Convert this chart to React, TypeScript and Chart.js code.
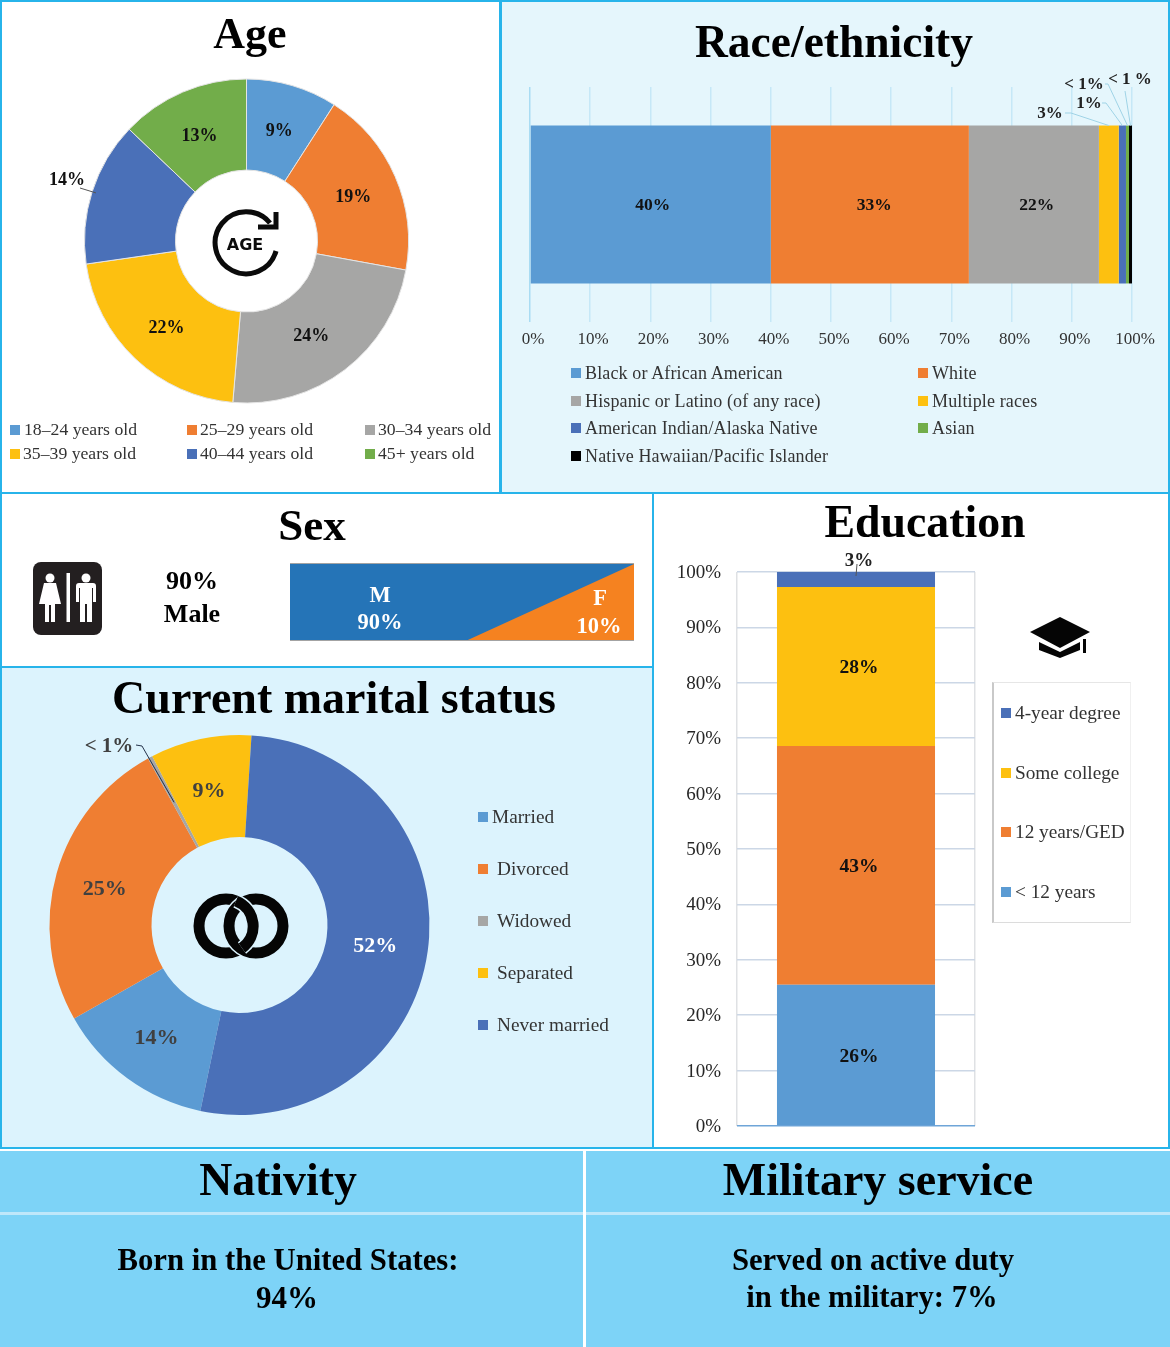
import React, { useEffect, useRef } from "react";
import { Chart, registerables } from "chart.js";

Chart.register(...registerables);

const SERIF = '"Liberation Serif", "Times New Roman", serif';

const BLUE = "#5b9bd3";
const ORANGE = "#ef7e32";
const GRAY = "#a6a6a5";
const YELLOW = "#fdc010";
const NAVY = "#4a70b8";
const GREEN = "#72ad4a";
const BLACK = "#000000";

const ageCategories = ["18–24 years old", "25–29 years old", "30–34 years old", "35–39 years old", "40–44 years old", "45+ years old"];
const ageValues = [9.1, 18.8, 23.5, 21.4, 14.4, 12.9];
const ageLabels = ["9%", "19%", "24%", "22%", "", "13%"];
const ageColors = [BLUE, ORANGE, GRAY, YELLOW, NAVY, GREEN];

const raceCategories = ["Black or African American", "White", "Hispanic or Latino (of any race)", "Multiple races", "American Indian/Alaska Native", "Asian", "Native Hawaiian/Pacific Islander"];
const raceValues = [40, 32.9, 21.6, 3.3, 1.2, 0.5, 0.5];
const raceLabels = ["40%", "33%", "22%", "", "", "", ""];
const raceColors = [BLUE, ORANGE, GRAY, YELLOW, NAVY, GREEN, BLACK];

const maritalCategories = ["Married", "Divorced", "Widowed", "Separated", "Never married"];
const maritalValues = [13.5, 25.2, 0.4, 8.6, 52.3];
const maritalLabels = ["14%", "25%", "", "9%", "52%"];
const maritalColors = [BLUE, ORANGE, GRAY, YELLOW, NAVY];

const eduCategories = ["< 12 years", "12 years/GED", "Some college", "4-year degree"];
const eduValues = [25.5, 43.1, 28.7, 2.7];
const eduLabels = ["26%", "43%", "28%", ""];
const eduColors = [BLUE, ORANGE, YELLOW, NAVY];

const sexMaleArea = [{ x: 0, y: 100 }, { x: 100, y: 100 }];
const sexFemaleArea = [{ x: 51.7, y: 0 }, { x: 100, y: 100 }];

const markLabels = {
  id: "markLabels",
  afterDatasetsDraw(chart: any, _args: any, opts: any) {
    const ctx = chart.ctx;
    const [ox, oy] = opts.origin || [0, 0];
    const metas = chart.getSortedVisibleDatasetMetas();
    const els: any[] = [];
    metas.forEach((m: any) => m.data.forEach((e: any) => els.push(e)));
    ctx.save();
    ctx.textAlign = "center";
    ctx.textBaseline = "middle";
    els.forEach((el, i) => {
      const t = opts.texts?.[i];
      if (t) {
        const c = el.getCenterPoint();
        const n = opts.nudges?.[i] || [0, 0];
        ctx.font = opts.font;
        ctx.fillStyle = Array.isArray(opts.colors) ? opts.colors[i] : opts.colors;
        ctx.fillText(t, c.x + (opts.shift?.[0] || 0) + n[0], c.y + (opts.shift?.[1] || 0) + n[1]);
      }
    });
    (opts.callouts || []).forEach((co: any) => {
      const el = els[co.index];
      const c = el.getCenterPoint();
      let ax = c.x;
      let ay = c.y;
      if (el.outerRadius !== undefined && co.radius) {
        const mid = (el.startAngle + el.endAngle) / 2;
        ax = el.x + Math.cos(mid) * co.radius;
        ay = el.y + Math.sin(mid) * co.radius;
      } else if (el.height !== undefined && el.horizontal) {
        ay = el.y - el.height / 2;
      } else if (el.height !== undefined) {
        ay = el.y + (co.inset || 0);
      }
      ctx.beginPath();
      ctx.strokeStyle = co.lineColor;
      ctx.lineWidth = 1;
      const pts = co.path.map(([x, y]: number[]) => [x - ox, y - oy]);
      ctx.moveTo(pts[0][0], pts[0][1]);
      pts.slice(1).forEach(([x, y]: number[]) => ctx.lineTo(x, y));
      ctx.lineTo(ax, ay);
      ctx.stroke();
      ctx.font = co.font;
      ctx.fillStyle = co.color;
      ctx.fillText(co.text, co.at[0] - ox, co.at[1] - oy);
    });
    ctx.restore();
  },
};

function ageConfig() {
  return {
    type: "doughnut",
    data: {
      labels: ageCategories,
      datasets: [{ data: ageValues, backgroundColor: ageColors, borderColor: "#e4e4e4", borderWidth: 1 }],
    },
    plugins: [markLabels],
    options: {
      responsive: false,
      animation: false,
      cutout: 71,
      layout: { padding: { left: 84, right: 91, top: 78, bottom: 88 } },
      plugins: {
        legend: { display: false },
        tooltip: { enabled: false },
        markLabels: {
          texts: ageLabels,
          font: `bold 18px ${SERIF}`,
          colors: "#111111",
          shift: [0, 2.5],
          nudges: [[0, 0], [0, 0], [-6, 0], [0, 0], [0, 0], [-1, 0]],
          callouts: [{
            index: 4, radius: 158, text: "14%", at: [67, 180], path: [[80, 188]],
            lineColor: "#555555", font: `bold 18px ${SERIF}`, color: "#111111",
          }],
        },
      },
    },
  };
}

function raceConfig() {
  return {
    type: "bar",
    data: {
      labels: ["Race/ethnicity"],
      datasets: raceCategories.map((c, i) => ({
        label: c,
        data: [raceValues[i]],
        backgroundColor: raceColors[i],
        barPercentage: 0.672,
        categoryPercentage: 1,
      })),
    },
    plugins: [markLabels],
    options: {
      indexAxis: "y",
      responsive: false,
      animation: false,
      layout: { padding: { left: 28, right: 38, top: 85, bottom: 140 } },
      scales: {
        x: {
          stacked: true,
          min: 0,
          max: 100,
          afterFit: (s: any) => { s.height = 30; },
          border: { display: false },
          grid: {
            color: (c: any) => (c.tick?.value === 0 ? "#a9dcf3" : "#c6e8f7"),
            lineWidth: 1.5,
            drawTicks: false,
          },
          ticks: {
            stepSize: 10,
            maxRotation: 0,
            autoSkip: false,
            padding: 7,
            labelOffset: 3,
            color: "#333333",
            font: { family: SERIF, size: 17 },
            callback: (v: any) => `${v}%`,
          },
        },
        y: { stacked: true, display: false },
      },
      plugins: {
        legend: { display: false },
        tooltip: { enabled: false },
        markLabels: {
          origin: [502, 2],
          texts: raceLabels,
          font: `bold 17.5px ${SERIF}`,
          colors: "#111111",
          shift: [3, 1],
          nudges: [[-1, 0], [1.5, 0], [0, 0]],
          callouts: [
            { index: 3, text: "3%", at: [1050, 114], path: [[1065, 113], [1071, 113]], lineColor: "#9fd3e6", font: `bold 17px ${SERIF}`, color: "#222222" },
            { index: 4, text: "1%", at: [1089, 104], path: [[1102, 103], [1106, 103]], lineColor: "#9fd3e6", font: `bold 17px ${SERIF}`, color: "#222222" },
            { index: 5, text: "< 1%", at: [1084, 85], path: [[1105, 84], [1108, 84]], lineColor: "#9fd3e6", font: `bold 17px ${SERIF}`, color: "#222222" },
            { index: 6, text: "< 1 %", at: [1130, 80], path: [[1125, 91]], lineColor: "#9fd3e6", font: `bold 17px ${SERIF}`, color: "#222222" },
          ],
        },
      },
    },
  };
}

function maritalConfig() {
  return {
    type: "doughnut",
    data: {
      labels: maritalCategories,
      datasets: [{ data: maritalValues, backgroundColor: maritalColors, borderWidth: 0 }],
    },
    plugins: [markLabels],
    options: {
      responsive: false,
      animation: false,
      cutout: 88,
      rotation: 191.9,
      layout: { padding: { left: 49, right: 223, top: 68, bottom: 32 } },
      plugins: {
        legend: { display: false },
        tooltip: { enabled: false },
        markLabels: {
          origin: [0, 667],
          texts: maritalLabels,
          font: `bold 22px ${SERIF}`,
          colors: ["#404040", "#404040", "#404040", "#404040", "#ffffff"],
          shift: [-1, 2.5],
          nudges: [[0, -1], [0, 0], [0, 0], [-1, 0], [-1, 0]],
          callouts: [{
            index: 2, text: "< 1%", at: [109, 747], path: [[136, 745], [142, 746]],
            lineColor: "#24324a", font: `bold 21px ${SERIF}`, color: "#404040",
          }],
        },
      },
    },
  };
}

function eduConfig() {
  return {
    type: "bar",
    data: {
      labels: ["Education"],
      datasets: eduCategories.map((c, i) => ({
        label: c,
        data: [eduValues[i]],
        backgroundColor: eduColors[i],
        barPercentage: 0.664,
        categoryPercentage: 1,
      })),
    },
    plugins: [markLabels],
    options: {
      responsive: false,
      animation: false,
      layout: { padding: { left: 0, right: 195, top: 79, bottom: 22 } },
      scales: {
        x: {
          stacked: true,
          afterFit: (s: any) => { s.height = 0; },
          border: { display: false },
          grid: { color: "#dfe1e4", lineWidth: 1.5, drawTicks: false, offset: true },
          ticks: { display: false },
        },
        y: {
          stacked: true,
          min: 0,
          max: 100,
          afterFit: (s: any) => { s.width = 83; s.paddingTop = 0; s.paddingBottom = 0; },
          border: { display: false },
          grid: {
            color: (c: any) => (c.tick?.value === 0 ? "#6fa5d8" : "#ccd7e6"),
            lineWidth: 1.5,
            drawTicks: false,
          },
          ticks: {
            stepSize: 10,
            padding: 16,
            labelOffset: 1,
            color: "#262626",
            font: { family: SERIF, size: 19 },
            callback: (v: any) => `${v}%`,
          },
        },
      },
      plugins: {
        legend: { display: false },
        tooltip: { enabled: false },
        markLabels: {
          origin: [654, 493],
          texts: eduLabels,
          font: `bold 19.5px ${SERIF}`,
          colors: "#111111",
          shift: [3, 1.5],
          callouts: [{
            index: 3, inset: 4, text: "3%", at: [859, 561], path: [[857, 564]],
            lineColor: "#555555", font: `bold 19px ${SERIF}`, color: "#222222",
          }],
        },
      },
    },
  };
}

function sexConfig() {
  return {
    type: "scatter",
    data: {
      datasets: [
        { data: sexMaleArea, order: 2, showLine: true, borderWidth: 0, pointRadius: 0, backgroundColor: "#2574b7", fill: "origin" },
        { data: sexFemaleArea, order: 1, showLine: true, borderWidth: 0, pointRadius: 0, backgroundColor: "#f58220", fill: "origin" },
      ],
    },
    options: {
      responsive: false,
      animation: false,
      layout: { padding: 0 },
      scales: {
        x: { type: "linear", min: 0, max: 100, display: false },
        y: { min: 0, max: 100, display: false },
      },
      plugins: { legend: { display: false }, tooltip: { enabled: false } },
    },
  };
}

function ChartBox({ x, y, w, h, make }: any) {
  const ref = useRef<HTMLCanvasElement | null>(null);
  useEffect(() => {
    const chart = new Chart(ref.current as any, make() as any);
    return () => chart.destroy();
  }, []);
  return (
    <canvas
      ref={ref}
      width={w}
      height={h}
      style={{ position: "absolute", left: x, top: y, width: w, height: h, display: "block" }}
    />
  );
}

function Txt({ x, y, size, bold, color, anchor, spacing, children }: any) {
  const tx = anchor === "left" ? "0" : "-50%";
  return (
    <div
      style={{
        position: "absolute",
        left: x,
        top: y,
        transform: `translate(${tx}, -50%)`,
        fontFamily: SERIF,
        fontSize: size,
        fontWeight: bold ? 700 : 400,
        letterSpacing: spacing || 0,
        color: color || "#000",
        lineHeight: 1,
        whiteSpace: "nowrap",
      }}
    >
      {children}
    </div>
  );
}

function Box({ x, y, w, h, bg, border }: any) {
  return (
    <div
      style={{
        position: "absolute",
        left: x,
        top: y,
        width: w,
        height: h,
        boxSizing: "border-box",
        background: bg,
        border: border ? "2px solid #27b4ea" : undefined,
      }}
    />
  );
}

function Key({ x, y, tx, color, size, spacing, dy, children }: any) {
  return (
    <>
      <div style={{ position: "absolute", left: x, top: y - 5, width: 10, height: 10, background: color }} />
      <Txt x={tx} y={y + (dy || 0)} size={size} color="#333" anchor="left" spacing={spacing}>{children}</Txt>
    </>
  );
}

function Icons() {
  return (
    <svg width={1170} height={1347} style={{ position: "absolute", left: 0, top: 0 }}>
      {/* age */}
      <path d="M270 223 A31 31 0 1 0 276 251" fill="none" stroke="#0b0b0b" strokeWidth={5} />
      <path d="M258 227 H276 V212" fill="none" stroke="#0b0b0b" strokeWidth={5} />
      <text x={245} y={250} textAnchor="middle" fontFamily='"DejaVu Sans", sans-serif' fontWeight={700} fontSize={16} fill="#0b0b0b">AGE</text>
      {/* restroom */}
      <rect x={33} y={562} width={69} height={73} rx={8} fill="#231f20" />
      <circle cx={50} cy={578} r={4.5} fill="#fff" />
      <path d="M44 583 H56 L61 604 H55 V622 H51 V605 H49 V622 H45 V604 H39 Z" fill="#fff" />
      <rect x={66.5} y={573} width={3.5} height={49} fill="#fff" />
      <circle cx={86} cy={578} r={4.5} fill="#fff" />
      <path d="M79 583 H93 Q96 583 96 586 V602 H93 V588 H92 V622 H87 V604 H85 V622 H80 V588 H79 V602 H76 V586 Q76 583 79 583 Z" fill="#fff" />
      {/* rings */}
      <circle cx={226} cy={926} r={27} fill="none" stroke="#050505" strokeWidth={11} />
      <circle cx={256} cy={926} r={27} fill="none" stroke="#daf2fd" strokeWidth={14} />
      <circle cx={256} cy={926} r={27} fill="none" stroke="#050505" strokeWidth={11} />
      <path d="M236 901 A27 27 0 0 1 242 948" fill="none" stroke="#daf2fd" strokeWidth={14} />
      <path d="M236 901 A27 27 0 0 1 242 948" fill="none" stroke="#050505" strokeWidth={11} />
      {/* graduation cap */}
      <path d="M1060 617 L1090 632 L1060 648 L1030 632 Z" fill="#050505" />
      <path d="M1039 642 L1060 652 L1080 642 V650 L1060 658 L1039 650 Z" fill="#050505" />
      <rect x={1083} y={639} width={3} height={14} fill="#050505" />
    </svg>
  );
}

const ageKeyPos = [[10, 24, 430], [187, 200, 430], [365, 378, 430], [10, 23, 454], [187, 200, 454], [365, 378, 454]];
const raceKeyPos = [[571, 585, 373], [918, 932, 373], [571, 585, 401], [918, 932, 401], [571, 585, 428], [918, 932, 428], [571, 585, 456]];
const maritalKeyPos = [[478, 492, 817], [478, 497, 869], [478, 497, 921], [478, 497, 973], [478, 497, 1025]];
const eduKeyPos = [[1001, 1015, 892], [1001, 1015, 832], [1001, 1015, 773], [1001, 1015, 713]];

export default function App() {
  return (
    <div style={{ position: "absolute", left: 0, top: 0, width: 1170, height: 1347, background: "#fff", overflow: "hidden" }}>
      <Box x={0} y={0} w={501} h={494} bg="#fff" border />
      <Box x={500} y={0} w={670} h={494} bg="#e5f6fc" border />
      <Box x={0} y={492} w={654} h={176} bg="#fff" border />
      <Box x={0} y={666} w={654} h={483} bg="#dcf3fd" border />
      <Box x={652} y={492} w={518} h={657} bg="#fff" border />

      <Box x={0} y={1151} w={583} h={61} bg="#7dd3f7" />
      <Box x={586} y={1151} w={584} h={61} bg="#7dd3f7" />
      <Box x={0} y={1212} w={583} h={3} bg="#bfe7fa" />
      <Box x={586} y={1212} w={584} h={3} bg="#bfe7fa" />
      <Box x={0} y={1215} w={583} h={132} bg="#7dd3f7" />
      <Box x={586} y={1215} w={584} h={132} bg="#7dd3f7" />

      <div style={{ position: "absolute", left: 992, top: 682, width: 139, height: 241, boxSizing: "border-box", borderLeft: "2px solid #c9c9c9", borderTop: "1px solid #e6e6e6", borderBottom: "1px solid #dcdcdc", borderRight: "1px solid #f0f0f0" }} />

      <ChartBox x={0} y={0} w={500} h={492} make={ageConfig} />
      <ChartBox x={502} y={2} w={668} h={490} make={raceConfig} />
      <ChartBox x={0} y={667} w={653} h={480} make={maritalConfig} />
      <ChartBox x={654} y={493} w={516} h={655} make={eduConfig} />
      <div style={{ position: "absolute", left: 290, top: 563, width: 344, height: 78, borderTop: "1px solid #a3a3a3", borderBottom: "1px solid #a3a3a3", boxSizing: "border-box" }} />
      <ChartBox x={290} y={564} w={344} h={76} make={sexConfig} />
      <Icons />

      <Txt x={250} y={34} size={44} bold>Age</Txt>
      <Txt x={834} y={42} size={45.5} bold>Race/ethnicity</Txt>
      <Txt x={312} y={525} size={45} bold>Sex</Txt>
      <Txt x={925} y={522} size={45.8} bold>Education</Txt>
      <Txt x={334} y={698} size={46} bold>Current marital status</Txt>
      <Txt x={278} y={1180} size={45.8} bold>Nativity</Txt>
      <Txt x={878} y={1180} size={46} bold>Military service</Txt>

      <Txt x={192} y={581} size={26} bold>90%</Txt>
      <Txt x={192} y={614} size={26} bold>Male</Txt>
      <Txt x={380} y={595} size={22.5} bold color="#fff">M</Txt>
      <Txt x={380} y={622} size={22.5} bold color="#fff">90%</Txt>
      <Txt x={600} y={598} size={22.5} bold color="#fff">F</Txt>
      <Txt x={599} y={626} size={22.5} bold color="#fff">10%</Txt>

      <Txt x={288} y={1260} size={30.7} bold>Born in the United States:</Txt>
      <Txt x={287} y={1297} size={31} bold>94%</Txt>
      <Txt x={873} y={1260} size={30.7} bold>Served on active duty</Txt>
      <Txt x={872} y={1297} size={30.7} bold>in the military: 7%</Txt>

      {ageCategories.map((c, i) => (
        <Key key={c} x={ageKeyPos[i][0]} tx={ageKeyPos[i][1]} y={ageKeyPos[i][2]} color={ageColors[i]} size={17.7}>{c}</Key>
      ))}
      {raceCategories.map((c, i) => (
        <Key key={c} x={raceKeyPos[i][0]} tx={raceKeyPos[i][1]} y={raceKeyPos[i][2]} color={raceColors[i]} size={18} spacing={0.13}>{c}</Key>
      ))}
      {maritalCategories.map((c, i) => (
        <Key key={c} x={maritalKeyPos[i][0]} tx={maritalKeyPos[i][1]} y={maritalKeyPos[i][2]} color={maritalColors[i]} size={19.3} dy={-0.5}>{c}</Key>
      ))}
      {eduCategories.map((c, i) => (
        <Key key={c} x={eduKeyPos[i][0]} tx={eduKeyPos[i][1]} y={eduKeyPos[i][2]} color={eduColors[i]} size={19.3} dy={-0.5}>{c}</Key>
      ))}
    </div>
  );
}
